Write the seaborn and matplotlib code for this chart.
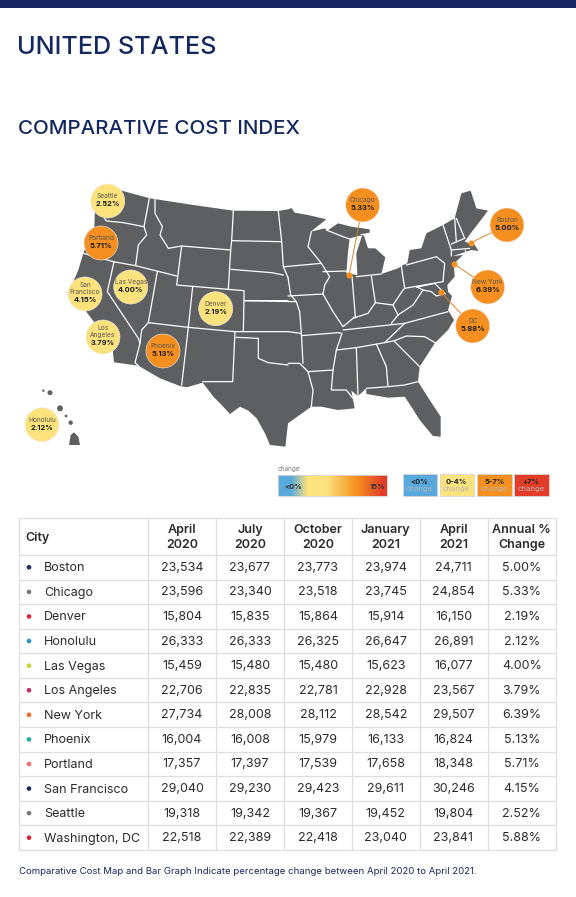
"""
Comparative cost index page: US map with call-outs and a cost table
"""

import matplotlib.pyplot as plt
from matplotlib.colors import LinearSegmentedColormap
from matplotlib.patches import Polygon, Rectangle
import numpy as np
import pandas as pd
import seaborn as sns

sns.set_theme(style="white")
plt.rcParams['font.family'] = ['Inter', 'DejaVu Sans']

NAVY = '#14285f'
MAP_GREY = '#5d5f61'
BLUE = '#5aa9dc'
YELLOW = '#fce27c'
ORANGE = '#f59020'
RED = '#e33d2a'
GRID = '#dedede'

# table data
cities = ['Boston', 'Chicago', 'Denver', 'Honolulu', 'Las Vegas', 'Los Angeles',
          'New York', 'Phoenix', 'Portland', 'San Francisco', 'Seattle', 'Washington, DC']
apr_2020 = [23534, 23596, 15804, 26333, 15459, 22706, 27734, 16004, 17357, 29040, 19318, 22518]
jul_2020 = [23677, 23340, 15835, 26333, 15480, 22835, 28008, 16008, 17397, 29230, 19342, 22389]
oct_2020 = [23773, 23518, 15864, 26325, 15480, 22781, 28112, 15979, 17539, 29423, 19367, 22418]
jan_2021 = [23974, 23745, 15914, 26647, 15623, 22928, 28542, 16133, 17658, 29611, 19452, 23040]
apr_2021 = [24711, 24854, 16150, 26891, 16077, 23567, 29507, 16824, 18348, 30246, 19804, 23841]
annual_change = [5.00, 5.33, 2.19, 2.12, 4.00, 3.79, 6.39, 5.13, 5.71, 4.15, 2.52, 5.88]
header_labels = ['April\n2020', 'July\n2020', 'October\n2020', 'January\n2021', 'April\n2021', 'Annual %\nChange']
dot_colors = ['#1c2b5e', '#77787b', '#d7263d', '#2b8fd0', '#c6cf2e', '#b5326f',
              '#f26c2b', '#1fae9f', '#ef6f6c', '#1c2b5e', '#77787b', '#d7263d']

# map call-outs
bubble_names = ['Seattle', 'Portland', 'San\nFrancisco', 'Las Vegas', 'Denver', 'Los\nAngeles',
                'Phoenix', 'Honolulu', 'Chicago', 'Boston', 'New York', 'DC']
bubble_values = [2.52, 5.71, 4.15, 4.00, 2.19, 3.79, 5.13, 2.12, 5.33, 5.00, 6.39, 5.88]
bubble_x = [107.7, 101, 85, 130.7, 215.7, 103, 163, 42, 362.7, 507, 487.7, 472.7]
bubble_y = [201, 243, 294, 287, 308.7, 337, 351, 424.7, 205, 225, 287, 326]

# city markers with leader lines: Chicago, Boston, New York, DC
leader_names = ['Chicago', 'Boston', 'New York', 'DC']
leader_x = [349, 471, 454.3, 440.7]
leader_y = [275.3, 242.7, 264, 292]

# legend
legend_top = ['<0%', '0-4%', '5-7%', '+7%']
legend_colors = [BLUE, YELLOW, ORANGE, RED]
gradient_stops = [(0, BLUE), (0.12, BLUE), (0.27, YELLOW), (0.45, YELLOW), (0.72, ORANGE), (0.97, RED), (1, RED)]

# map outline traced from the page, (x, y) in 3x crop units
west_outline = [(864, 760), (856, 830), (810, 825), (795, 790), (770, 745), (745, 722), (720, 710),
                (690, 732), (660, 700), (640, 680), (608, 638), (560, 652), (540, 648), (480, 625),
                (415, 587), (342, 577), (338, 540), (300, 480), (255, 420), (205, 370), (235, 300),
                (250, 250), (270, 200), (283, 170), (285, 110), (365, 62), (450, 85), (580, 105),
                (700, 122), (835, 123)]
east_outline = [(0, 118), (10, 114), (20, 128), (60, 135), (115, 148), (68, 185), (110, 175),
                (118, 182), (150, 160), (190, 170), (245, 178), (245, 188), (215, 193), (228, 197),
                (240, 235), (262, 235), (292, 262), (280, 312), (330, 295), (345, 285), (358, 280),
                (365, 240), (400, 235), (415, 190), (465, 165), (500, 145), (520, 70), (548, 62),
                (565, 115), (600, 122), (548, 190), (530, 215), (560, 225), (572, 243), (550, 240),
                (495, 258), (525, 255), (497, 282), (500, 320), (478, 345), (480, 365), (492, 378),
                (480, 420), (498, 450), (480, 480), (440, 520), (395, 590), (390, 635), (425, 690),
                (458, 740), (458, 800), (435, 798), (395, 750), (370, 710), (350, 680), (300, 683),
                (235, 672), (235, 655), (210, 678), (190, 662), (200, 715), (150, 720), (100, 710),
                (70, 710), (0, 760)]
lake_michigan = [(185, 205), (215, 197), (222, 197), (205, 250), (208, 315), (175, 310), (180, 245)]
big_island = [(207, 825), (212, 795), (222, 787), (235, 800), (240, 825)]
hawaii_islands_x = [130, 150, 180, 198, 212]
hawaii_islands_y = [662, 668, 715, 738, 758]
hawaii_islands_s = [3, 13, 18, 4, 10]

west_borders = [
    [(313, 145), (320, 153), (370, 158), (432, 170)],
    [(448, 85), (432, 170), (440, 195), (415, 225), (407, 285)],
    [(250, 250), (340, 275), (407, 287), (530, 318)],
    [(465, 88), (465, 130), (487, 170), (480, 195), (505, 235), (545, 228), (692, 240)],
    [(545, 228), (530, 345), (685, 358), (692, 240), (695, 212), (700, 122)],
    [(695, 212), (845, 215), (835, 123)],
    [(845, 215), (850, 290), (864, 322)],
    [(692, 298), (815, 308), (850, 315)],
    [(342, 275), (322, 365), (415, 505), (420, 520), (405, 578), (415, 587)],
    [(472, 305), (445, 458), (425, 480), (420, 520)],
    [(578, 350), (565, 472), (545, 645)],
    [(445, 458), (565, 472), (705, 485), (864, 485)],
    [(685, 358), (732, 362), (732, 392), (864, 392)],
    [(732, 392), (730, 485)],
    [(608, 635), (698, 635), (705, 485)],
    [(708, 502), (775, 505), (775, 565), (805, 578), (864, 585)],
]
east_borders = [
    [(-10, 290), (100, 280)],
    [(70, 185), (60, 230), (100, 280), (125, 320), (110, 345), (105, 372)],
    [(115, 180), (165, 200), (185, 207)],
    [(0, 378), (105, 372), (135, 425), (165, 470), (195, 445), (240, 430), (262, 398), (315, 405), (345, 360), (350, 355)],
    [(0, 322), (8, 375), (25, 395), (35, 425), (40, 490)],
    [(-130, 392), (25, 395)],
    [(0, 485), (40, 490), (45, 580)],
    [(40, 497), (150, 488), (162, 490), (145, 540), (135, 600), (130, 660), (175, 660), (195, 685)],
    [(0, 580), (35, 580), (60, 605), (135, 600)],
    [(60, 605), (75, 660), (70, 710)],
    [(205, 533), (210, 678)],
    [(265, 522), (295, 590), (300, 650)],
    [(145, 540), (205, 533), (290, 518), (320, 512), (355, 498), (410, 500), (445, 520)],
    [(320, 515), (395, 590)],
    [(235, 655), (300, 650), (350, 645), (390, 635)],
    [(165, 480), (350, 460), (480, 425)],
    [(290, 518), (350, 460)],
    [(105, 305), (178, 303)],
    [(192, 320), (202, 440), (195, 445)],
    [(205, 320), (280, 312)],
    [(250, 318), (262, 398)],
    [(340, 288), (350, 355), (465, 335)],
    [(310, 460), (330, 435), (315, 405)],
    [(330, 435), (375, 405), (405, 360), (385, 350)],
    [(405, 360), (430, 365), (445, 378), (465, 372)],
    [(385, 352), (440, 340), (472, 372)],
    [(355, 285), (445, 260), (470, 280), (465, 335)],
    [(465, 165), (490, 240), (490, 258)],
    [(500, 145), (505, 215)],
    [(490, 222), (530, 205)],
    [(490, 240), (545, 235)],
    [(530, 240), (530, 248)],
    [(505, 145), (530, 205)],
]


def west_xy(points):
    return [(x / 3, 170 + y / 3) for x, y in points]


def east_xy(points):
    return [(288 + x / 3, 170 + y / 3) for x, y in points]


def bubble_color(value):
    if value < 0:
        return BLUE
    if value <= 4.2:
        return YELLOW
    if value < 7:
        return ORANGE
    return RED


def draw_map(ax):
    ax.add_patch(Polygon(west_xy(west_outline) + east_xy(east_outline), closed=True,
                         facecolor=MAP_GREY, edgecolor='none', zorder=1))
    ax.add_patch(Polygon(east_xy(lake_michigan), closed=True, facecolor='white',
                         edgecolor='none', zorder=2))
    ax.add_patch(Polygon(west_xy(big_island), closed=True, facecolor=MAP_GREY,
                         edgecolor='none', zorder=1))
    islands = pd.DataFrame({'x': [x / 3 for x in hawaii_islands_x],
                            'y': [170 + y / 3 for y in hawaii_islands_y]})
    sns.scatterplot(data=islands, x='x', y='y', s=hawaii_islands_s, color=MAP_GREY, linewidth=0,
                    ax=ax, zorder=1, legend=False)

    for border in west_borders:
        pts = np.array(west_xy(border))
        ax.plot(pts[:, 0], pts[:, 1], color='white', lw=0.9, zorder=3)
    for border in east_borders:
        pts = np.array(east_xy(border))
        ax.plot(pts[:, 0], pts[:, 1], color='white', lw=0.9, zorder=3)


def draw_bubbles(ax):
    df = pd.DataFrame({'x': bubble_x, 'y': bubble_y, 'name': bubble_names, 'value': bubble_values})
    df['color'] = df['value'].map(bubble_color)

    for name, lx, ly in zip(leader_names, leader_x, leader_y):
        row = df[df['name'] == name].iloc[0]
        ax.plot([lx, row['x']], [ly, row['y']], color='#d5862c', lw=0.7, zorder=4)
    sns.scatterplot(x=leader_x, y=leader_y, color=ORANGE, s=19, linewidth=0, ax=ax, zorder=5, legend=False)

    sns.scatterplot(data=df, x='x', y='y', hue='color', palette={c: c for c in df['color'].unique()},
                    s=600, edgecolor='#ececec', linewidth=0.4, ax=ax, zorder=6, legend=False)

    for _, row in df.iterrows():
        two_lines = '\n' in row['name']
        name_y = row['y'] - (5.6 if two_lines else 4.7)
        value_y = row['y'] + (6 if two_lines else 3)
        ax.text(row['x'], name_y, row['name'], ha='center', va='center', fontsize=4.7, color='#5a564c',
                linespacing=1.2, zorder=7)
        ax.text(row['x'], value_y, f"{row['value']:.2f}%", ha='center', va='center', fontsize=5.4,
                fontweight='bold', color='#1a1a1a', zorder=7)


def draw_legend(ax):
    ax.text(278, 469.5, 'change', fontsize=4.6, color='#777777', ha='left', va='center')
    cmap = LinearSegmentedColormap.from_list('change', gradient_stops)
    ax.imshow(np.linspace(0, 1, 256).reshape(1, -1), cmap=cmap, aspect='auto',
              extent=(278, 386.5, 496, 475), zorder=2)
    ax.add_patch(Rectangle((278, 475), 108.5, 21, fill=False, edgecolor='#d5d5d5', lw=0.6, zorder=3))
    ax.text(284, 487, '<0%', fontsize=5.4, fontweight='bold', color='#333333', va='center', zorder=4)
    ax.text(385, 487, '15%', fontsize=5.4, fontweight='bold', color='#333333', ha='right', va='center', zorder=4)

    box_lefts = [402.5, 439.5, 477, 514]
    for left, top, color in zip(box_lefts, legend_top, legend_colors):
        ax.add_patch(Rectangle((left, 474.5), 34.5, 21.5, facecolor=color, edgecolor='#d5d5d5', lw=0.6))
        ax.text(left + 17.2, 481.5, top, fontsize=5.4, fontweight='bold', color='#222222',
                ha='center', va='center')
        ax.text(left + 17.2, 489, 'change', fontsize=5.6, color='#b8b8b8',
                ha='center', va='center')


def draw_table(ax):
    col_edges = [19, 148, 216, 284, 352, 419.5, 487.5, 556]
    top = 518
    header_bottom = 555
    row_h = (850 - header_bottom) / len(cities)

    for x in col_edges:
        ax.plot([x, x], [top, 850], color=GRID, lw=0.9, zorder=1)
    ax.plot([19, 556], [top, top], color=GRID, lw=0.9, zorder=1)
    for i in range(len(cities) + 1):
        y = header_bottom + i * row_h
        ax.plot([19, 556], [y, y], color=GRID, lw=0.9, zorder=1)

    centers = [(a + b) / 2 for a, b in zip(col_edges[1:], col_edges[2:])]
    ax.text(25, 537.5, 'City', fontsize=9, fontweight='semibold', color='#2b2b2b', va='center')
    for cx, label in zip(centers, header_labels):
        ax.text(cx, 537.5, label, fontsize=9, fontweight='semibold', color='#2b2b2b',
                ha='center', va='center', linespacing=1.4)

    row_y = [header_bottom + (i + 0.5) * row_h for i in range(len(cities))]
    sns.scatterplot(x=[29] * len(cities), y=row_y, hue=cities,
                    palette=dict(zip(cities, dot_colors)), s=11, linewidth=0, ax=ax, legend=False, zorder=2)

    columns = [apr_2020, jul_2020, oct_2020, jan_2021, apr_2021]
    for i, city in enumerate(cities):
        ax.text(44, row_y[i] + 1, city, fontsize=9, color='#2b2b2b', va='center')
        for cx, col in zip(centers, columns):
            ax.text(cx, row_y[i] + 0.5, f'{col[i]:,}', fontsize=9, color='#2b2b2b', ha='center', va='center')
        ax.text(centers[5], row_y[i] + 0.5, f'{annual_change[i]:.2f}%', fontsize=9, color='#2b2b2b',
                ha='center', va='center')


fig = plt.figure(figsize=(5.76, 8.97), dpi=100)
ax = fig.add_axes([0, 0, 1, 1])

draw_map(ax)
draw_bubbles(ax)
draw_legend(ax)
draw_table(ax)

ax.add_patch(Rectangle((0, 0), 576, 8, facecolor=NAVY, edgecolor='none'))
ax.text(17, 48, 'UNITED STATES', fontsize=18.2, color=NAVY, fontweight='medium', va='center')
ax.text(18, 129, 'COMPARATIVE COST INDEX', fontsize=14.8, color=NAVY, fontweight='medium', va='center')
ax.text(19, 871, 'Comparative Cost Map and Bar Graph Indicate percentage change between April 2020 to April 2021.',
        fontsize=6.9, color=NAVY, va='center')

ax.set_xlim(0, 576)
ax.set_ylim(897, 0)
ax.axis('off')

plt.savefig('out.png', dpi=100)
plt.close()
